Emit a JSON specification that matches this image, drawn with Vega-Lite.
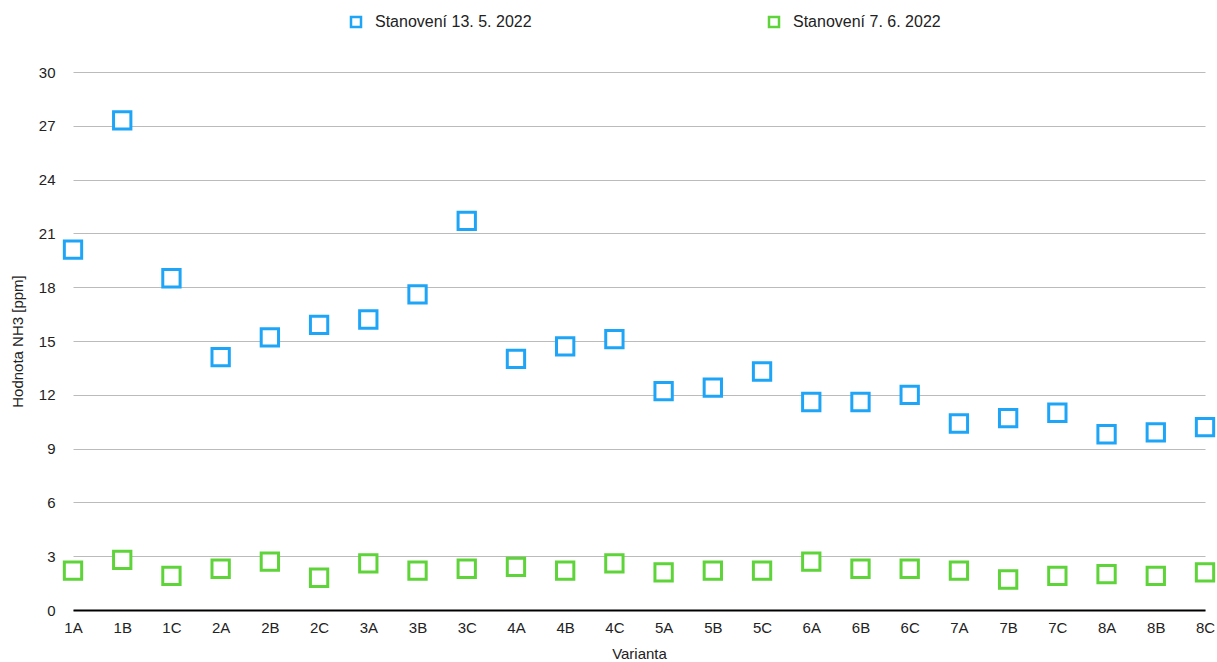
{
  "$schema": "https://vega.github.io/schema/vega-lite/v6.json",
  "width": 1132,
  "height": 538,
  "autosize": {"type": "none"},
  "padding": {"left": 73, "top": 72, "right": 12, "bottom": 52},
  "background": "white",
  "config": {
    "font": "Liberation Sans",
    "view": {"stroke": null},
    "axis": {"labelFont": "Liberation Sans", "titleFont": "Liberation Sans", "labelColor": "#222", "titleColor": "#222", "titleFontWeight": "normal"}
  },
  "datasets": {
    "d": [
      {"Varianta": "1A", "Série": "Stanovení 13. 5. 2022", "Hodnota": 20.1},
      {"Varianta": "1B", "Série": "Stanovení 13. 5. 2022", "Hodnota": 27.3},
      {"Varianta": "1C", "Série": "Stanovení 13. 5. 2022", "Hodnota": 18.5},
      {"Varianta": "2A", "Série": "Stanovení 13. 5. 2022", "Hodnota": 14.1},
      {"Varianta": "2B", "Série": "Stanovení 13. 5. 2022", "Hodnota": 15.2},
      {"Varianta": "2C", "Série": "Stanovení 13. 5. 2022", "Hodnota": 15.9},
      {"Varianta": "3A", "Série": "Stanovení 13. 5. 2022", "Hodnota": 16.2},
      {"Varianta": "3B", "Série": "Stanovení 13. 5. 2022", "Hodnota": 17.6},
      {"Varianta": "3C", "Série": "Stanovení 13. 5. 2022", "Hodnota": 21.7},
      {"Varianta": "4A", "Série": "Stanovení 13. 5. 2022", "Hodnota": 14.0},
      {"Varianta": "4B", "Série": "Stanovení 13. 5. 2022", "Hodnota": 14.7},
      {"Varianta": "4C", "Série": "Stanovení 13. 5. 2022", "Hodnota": 15.1},
      {"Varianta": "5A", "Série": "Stanovení 13. 5. 2022", "Hodnota": 12.2},
      {"Varianta": "5B", "Série": "Stanovení 13. 5. 2022", "Hodnota": 12.4},
      {"Varianta": "5C", "Série": "Stanovení 13. 5. 2022", "Hodnota": 13.3},
      {"Varianta": "6A", "Série": "Stanovení 13. 5. 2022", "Hodnota": 11.6},
      {"Varianta": "6B", "Série": "Stanovení 13. 5. 2022", "Hodnota": 11.6},
      {"Varianta": "6C", "Série": "Stanovení 13. 5. 2022", "Hodnota": 12.0},
      {"Varianta": "7A", "Série": "Stanovení 13. 5. 2022", "Hodnota": 10.4},
      {"Varianta": "7B", "Série": "Stanovení 13. 5. 2022", "Hodnota": 10.7},
      {"Varianta": "7C", "Série": "Stanovení 13. 5. 2022", "Hodnota": 11.0},
      {"Varianta": "8A", "Série": "Stanovení 13. 5. 2022", "Hodnota": 9.8},
      {"Varianta": "8B", "Série": "Stanovení 13. 5. 2022", "Hodnota": 9.9},
      {"Varianta": "8C", "Série": "Stanovení 13. 5. 2022", "Hodnota": 10.2},
      {"Varianta": "1A", "Série": "Stanovení 7. 6. 2022", "Hodnota": 2.2},
      {"Varianta": "1B", "Série": "Stanovení 7. 6. 2022", "Hodnota": 2.8},
      {"Varianta": "1C", "Série": "Stanovení 7. 6. 2022", "Hodnota": 1.9},
      {"Varianta": "2A", "Série": "Stanovení 7. 6. 2022", "Hodnota": 2.3},
      {"Varianta": "2B", "Série": "Stanovení 7. 6. 2022", "Hodnota": 2.7},
      {"Varianta": "2C", "Série": "Stanovení 7. 6. 2022", "Hodnota": 1.8},
      {"Varianta": "3A", "Série": "Stanovení 7. 6. 2022", "Hodnota": 2.6},
      {"Varianta": "3B", "Série": "Stanovení 7. 6. 2022", "Hodnota": 2.2},
      {"Varianta": "3C", "Série": "Stanovení 7. 6. 2022", "Hodnota": 2.3},
      {"Varianta": "4A", "Série": "Stanovení 7. 6. 2022", "Hodnota": 2.4},
      {"Varianta": "4B", "Série": "Stanovení 7. 6. 2022", "Hodnota": 2.2},
      {"Varianta": "4C", "Série": "Stanovení 7. 6. 2022", "Hodnota": 2.6},
      {"Varianta": "5A", "Série": "Stanovení 7. 6. 2022", "Hodnota": 2.1},
      {"Varianta": "5B", "Série": "Stanovení 7. 6. 2022", "Hodnota": 2.2},
      {"Varianta": "5C", "Série": "Stanovení 7. 6. 2022", "Hodnota": 2.2},
      {"Varianta": "6A", "Série": "Stanovení 7. 6. 2022", "Hodnota": 2.7},
      {"Varianta": "6B", "Série": "Stanovení 7. 6. 2022", "Hodnota": 2.3},
      {"Varianta": "6C", "Série": "Stanovení 7. 6. 2022", "Hodnota": 2.3},
      {"Varianta": "7A", "Série": "Stanovení 7. 6. 2022", "Hodnota": 2.2},
      {"Varianta": "7B", "Série": "Stanovení 7. 6. 2022", "Hodnota": 1.7},
      {"Varianta": "7C", "Série": "Stanovení 7. 6. 2022", "Hodnota": 1.9},
      {"Varianta": "8A", "Série": "Stanovení 7. 6. 2022", "Hodnota": 2.0},
      {"Varianta": "8B", "Série": "Stanovení 7. 6. 2022", "Hodnota": 1.9},
      {"Varianta": "8C", "Série": "Stanovení 7. 6. 2022", "Hodnota": 2.1}
    ]
  },
  "data": {"name": "d"},
  "mark": {"type": "point", "shape": "square", "size": 300, "strokeWidth": 3, "filled": false, "fill": "white", "fillOpacity": 1, "opacity": 1, "clip": false},
  "encoding": {
    "x": {
      "field": "Varianta", "type": "ordinal",
      "scale": {"type": "point", "padding": 0},
      "sort": null,
      "axis": {"title": "Varianta", "titleFontSize": 15, "titlePadding": 11, "labelFontSize": 15, "labelAngle": 0, "labelPadding": 10, "ticks": false, "domainColor": "#000", "domainWidth": 2, "grid": false}
    },
    "y": {
      "field": "Hodnota", "type": "quantitative",
      "scale": {"domain": [0, 30], "nice": false},
      "axis": {"title": "Hodnota NH3 [ppm]", "titleFontSize": 15, "titlePadding": 13, "labelFontSize": 15, "labelPadding": 18, "values": [0, 3, 6, 9, 12, 15, 18, 21, 24, 27, 30], "ticks": false, "domain": false, "grid": true, "gridColor": "#bbbbbb", "gridWidth": 1}
    },
    "color": {
      "field": "Série", "type": "nominal",
      "scale": {"domain": ["Stanovení 13. 5. 2022", "Stanovení 7. 6. 2022"], "range": ["#1ea5f8", "#5ed43a"]},
      "legend": {"title": null, "orient": "none", "legendX": 275, "legendY": -58, "direction": "horizontal", "columns": 2, "columnPadding": 232, "symbolType": "square", "symbolSize": 100, "symbolStrokeWidth": 2.5, "symbolFillColor": "white", "labelFontSize": 16, "labelOffset": 11, "labelColor": "#222"}
    }
  }
}
